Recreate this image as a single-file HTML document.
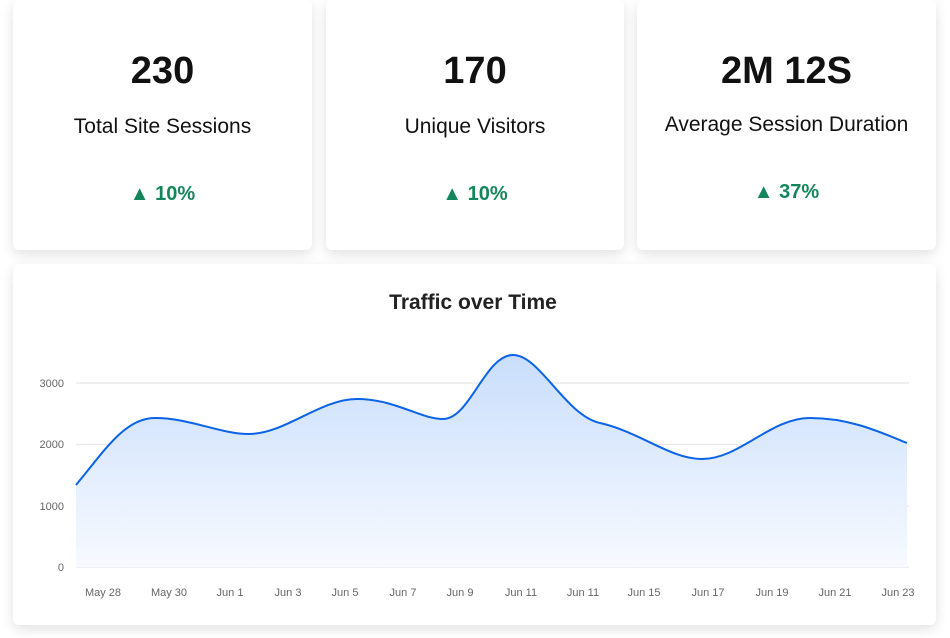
<!DOCTYPE html>
<html><head><meta charset="utf-8"><style>
body{margin:0;width:950px;height:638px;background:#fff;font-family:"Liberation Sans",sans-serif;position:relative;overflow:hidden}
.card{position:absolute;background:#fff;border-radius:6px;box-shadow:0 4px 12px rgba(0,0,0,0.12)}
.num{position:absolute;left:0;right:0;text-align:center;font-weight:bold;font-size:38px;color:#111}
.lbl{position:absolute;left:0;right:0;text-align:center;font-size:21px;color:#111}
.pct{position:absolute;left:0;right:0;text-align:center;font-size:20px;font-weight:bold;color:#14875a}
</style></head><body>
<div class="card" style="left:13px;top:0;width:299px;height:250px">
<div class="num" style="top:50px">230</div><div class="lbl" style="top:115px">Total Site Sessions</div><div class="pct" style="top:183px">▲ 10%</div></div>
<div class="card" style="left:326px;top:0;width:298px;height:250px">
<div class="num" style="top:50px">170</div><div class="lbl" style="top:115px">Unique Visitors</div><div class="pct" style="top:183px">▲ 10%</div></div>
<div class="card" style="left:637px;top:0;width:299px;height:250px">
<div class="num" style="top:50px">2M 12S</div><div class="lbl" style="top:113px">Average Session Duration</div><div class="pct" style="top:181px">▲ 37%</div></div>
<div class="card" style="left:13px;top:264px;width:923px;height:361px"></div>
<svg width="950" height="638" style="position:absolute;left:0;top:0">
<defs><linearGradient id="g" x1="0" y1="0" x2="0" y2="1"><stop offset="0" stop-color="#c9defc"/><stop offset="1" stop-color="#f7faff"/></linearGradient></defs>
<text x="473" y="309" text-anchor="middle" font-size="21" font-weight="bold" fill="#222" font-family="Liberation Sans">Traffic over Time</text>
<g stroke="#e6e8ec" stroke-width="1.3">
<line x1="76" y1="383" x2="909" y2="383"/><line x1="76" y1="444.5" x2="909" y2="444.5"/><line x1="76" y1="506" x2="909" y2="506"/><line x1="76" y1="567" x2="909" y2="567"/></g>
<g font-size="11" fill="#666" text-anchor="end" font-family="Liberation Sans">
<text x="64" y="387">3000</text><text x="64" y="448">2000</text><text x="64" y="510">1000</text><text x="64" y="571">0</text></g>
<path d="M76,485 C105,450 125,418 155,418 C190,418 220,434 249,434 C285,434 320,399 357,399 C395,399 420,419 443,419 C470,419 485,355 513,355 C540,355 565,415 600,423 C640,432 670,459 702,459 C740,459 770,418 810,418 C850,418 880,432 907,443 L907,567 L76,567Z" fill="url(#g)"/>
<path d="M76,485 C105,450 125,418 155,418 C190,418 220,434 249,434 C285,434 320,399 357,399 C395,399 420,419 443,419 C470,419 485,355 513,355 C540,355 565,415 600,423 C640,432 670,459 702,459 C740,459 770,418 810,418 C850,418 880,432 907,443" fill="none" stroke="#0a63e8" stroke-width="2"/>
<g font-size="11" fill="#666" text-anchor="middle" font-family="Liberation Sans">
<text x="103" y="596">May 28</text><text x="169" y="596">May 30</text><text x="230" y="596">Jun 1</text><text x="288" y="596">Jun 3</text><text x="345" y="596">Jun 5</text><text x="403" y="596">Jun 7</text><text x="460" y="596">Jun 9</text><text x="521" y="596">Jun 11</text><text x="583" y="596">Jun 11</text><text x="644" y="596">Jun 15</text><text x="708" y="596">Jun 17</text><text x="772" y="596">Jun 19</text><text x="835" y="596">Jun 21</text><text x="898" y="596">Jun 23</text></g>
</svg>
</body></html>
